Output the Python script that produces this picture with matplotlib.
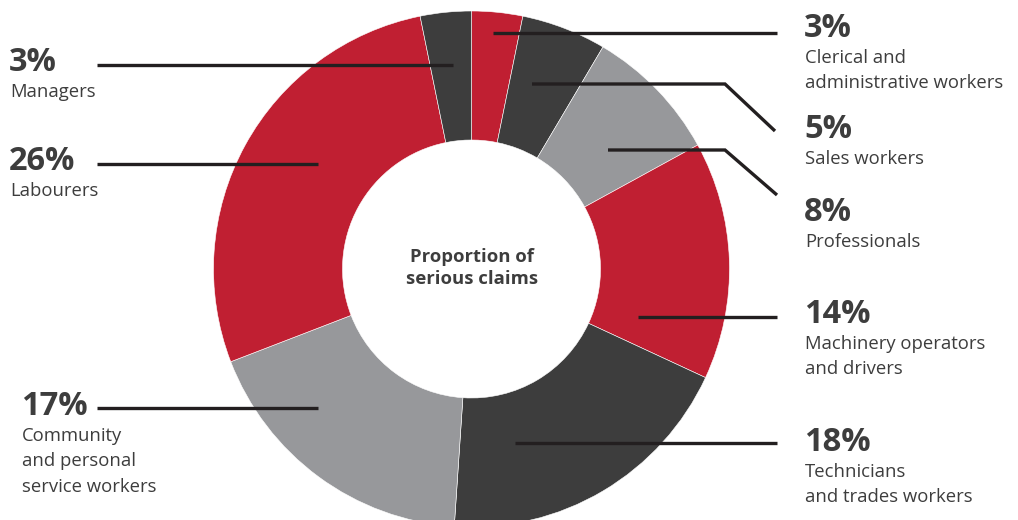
import matplotlib
matplotlib.use("Agg")
import matplotlib.pyplot as plt

# Serious claims by occupation, clockwise from 12 o'clock
occupations = [
    "Clerical and\nadministrative workers",
    "Sales workers",
    "Professionals",
    "Machinery operators\nand drivers",
    "Technicians\nand trades workers",
    "Community\nand personal\nservice workers",
    "Labourers",
    "Managers",
]
shares = [3, 5, 8, 14, 18, 17, 26, 3]

RED = "#c01f32"
DARK = "#3d3d3d"
GREY = "#97989b"
TEXT = "#3d3d3d"
LINE = "#231f20"
slice_colors = [RED, DARK, GREY, RED, DARK, GREY, RED, DARK]

W, H = 1018, 520
FONT = ["Open Sans", "DejaVu Sans"]

# label anchor (x, baseline of the % figure) and leader path, in pixels from top-left
label_pos = [
    (805, 37), (805, 138), (805, 221), (805, 323),
    (805, 451), (22, 415), (10, 170), (10, 71),
]
leaders = [
    [(493, 33), (777, 33)],
    [(532, 84), (725, 84), (775, 131)],
    [(608, 150), (725, 150), (777, 195)],
    [(638, 317), (777, 317)],
    [(515, 443), (777, 443)],
    [(318, 408), (97, 408)],
    [(318, 164), (97, 164)],
    [(453, 65), (97, 65)],
]


def flip(y):
    return H - y


fig = plt.figure(figsize=(W / 100, H / 100), dpi=100)
ax = fig.add_axes([0, 0, 1, 1])

ax.pie(
    shares,
    colors=slice_colors,
    startangle=90,
    counterclock=False,
    center=(471.5, flip(269)),
    radius=258,
    wedgeprops=dict(width=129, edgecolor="white", linewidth=0.4),
    frame=True,
)
ax.set_xlim(0, W)
ax.set_ylim(0, H)
ax.set_aspect("equal")
ax.axis("off")

for path in leaders:
    xs = [p[0] for p in path]
    ys = [flip(p[1]) for p in path]
    ax.plot(xs, ys, color=LINE, lw=2.4, solid_capstyle="butt", solid_joinstyle="miter")

for name, val, (x, yb) in zip(occupations, shares, label_pos):
    ax.text(x - 1, flip(yb), f"{val}%", fontsize=23.5, fontweight="bold",
            color=TEXT, family=FONT, va="baseline", ha="left")
    for i, line in enumerate(name.split("\n")):
        ax.text(x, flip(yb + 26 + 25.5 * i), line,
                fontsize=13.3, color=TEXT, family=FONT, va="baseline", ha="left")

ax.text(472, flip(268), "Proportion of\nserious claims", fontsize=13.3,
        fontweight="bold", color=TEXT, family=FONT, ha="center", va="center",
        linespacing=1.3)

fig.savefig("out.png", dpi=100)
